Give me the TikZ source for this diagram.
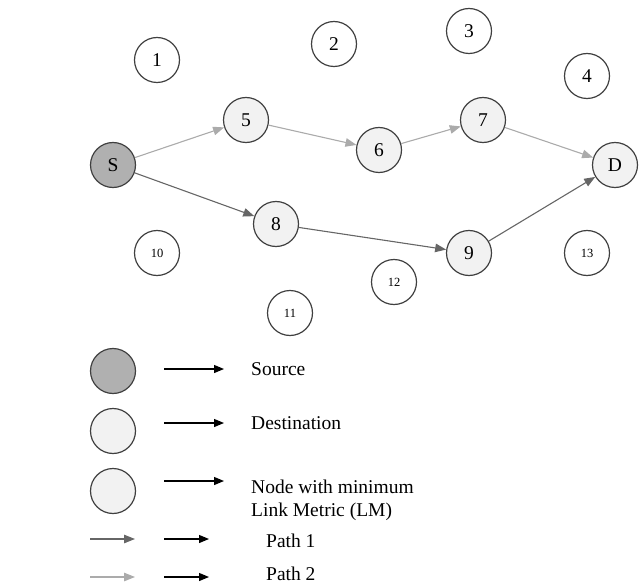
\documentclass[tikz,border=0pt]{standalone}
\usepackage{fontspec}
\setmainfont{Liberation Serif}
\usetikzlibrary{arrows.meta}
\definecolor{nodeline}{HTML}{404040}
\definecolor{srcfill}{HTML}{B0B0B0}
\definecolor{nfill}{HTML}{F2F2F2}
\definecolor{pone}{HTML}{666666}
\definecolor{ptwo}{HTML}{ABABAB}
\begin{document}
\begin{tikzpicture}[x=1pt,y=-1pt,
  net/.style={circle,draw=nodeline,line width=1.2pt,minimum size=45pt,inner sep=0pt,font=\fontsize{19.5}{22}\selectfont},
  idle/.style={net,fill=white},
  idlesmall/.style={idle,font=\fontsize{12.5}{14}\selectfont},
  hop/.style={net,fill=nfill},
  src/.style={net,fill=srcfill},
  pathone/.style={draw=pone,line width=1.1pt,-{Triangle[length=11pt,width=8.5pt]}},
  pathtwo/.style={draw=ptwo,line width=1.1pt,-{Triangle[length=11pt,width=8.5pt]}},
  legarrow/.style={draw=black,line width=1.2pt,-{Triangle[length=10pt,width=8pt]}},
  legtext/.style={anchor=base west,font=\fontsize{19.5}{22.5}\selectfont,inner sep=0pt,align=left}
]
\useasboundingbox (0,0) rectangle (640,583);
% network
\node[idle] (n1) at (157,60) {1};
\node[idle] (n2) at (334,44) {2};
\node[idle] (n3) at (469,31) {3};
\node[idle] (n4) at (587,76) {4};
\node[hop] (n5) at (246,120) {5};
\node[hop] (n6) at (379,150) {6};
\node[hop] (n7) at (483,120) {7};
\node[hop] (D) at (615,165) {D};
\node[src] (S) at (113,165) {S};
\node[hop] (n8) at (276,224) {8};
\node[hop] (n9) at (469,253) {9};
\node[idlesmall] (n10) at (157,253) {10};
\node[idlesmall] (n11) at (290,313) {11};
\node[idlesmall] (n12) at (394,282) {12};
\node[idlesmall] (n13) at (587,253) {13};
% path 2 (light)
\draw[pathtwo] (S) -- (n5);
\draw[pathtwo] (n5) -- (n6);
\draw[pathtwo] (n6) -- (n7);
\draw[pathtwo] (n7) -- (D);
% path 1 (dark)
\draw[pathone] (S) -- (n8);
\draw[pathone] (n8) -- (n9);
\draw[pathone] (n9) -- (D);
% legend
\node[src] (ls) at (113,371) {};
\node[hop] (ld) at (113,431) {};
\node[hop] (lm) at (113,491) {};
\coordinate (a1s) at (164,369); \coordinate (a1e) at (224,369);
\coordinate (a2s) at (164,423); \coordinate (a2e) at (224,423);
\coordinate (a3s) at (164,481); \coordinate (a3e) at (224,481);
\coordinate (a4s) at (164,539); \coordinate (a4e) at (209,539);
\coordinate (a5s) at (164,577); \coordinate (a5e) at (209,577);
\coordinate (g1s) at (90,539); \coordinate (g1e) at (135,539);
\coordinate (g2s) at (90,577); \coordinate (g2e) at (135,577);
\draw[legarrow] (a1s) -- (a1e);
\draw[legarrow] (a2s) -- (a2e);
\draw[legarrow] (a3s) -- (a3e);
\draw[legarrow] (a4s) -- (a4e);
\draw[legarrow] (a5s) -- (a5e);
\draw[pathone] (g1s) -- (g1e);
\draw[pathtwo] (g2s) -- (g2e);
\node[legtext] (t1) at (251,375) {Source};
\node[legtext] (t2) at (251,429) {Destination};
\node[legtext] (t3) at (251,516) {Node with minimum\\Link Metric (LM)};
\node[legtext] (t4) at (266,547) {Path 1};
\node[legtext] (t5) at (266,580) {Path 2};
\end{tikzpicture}
\end{document}
